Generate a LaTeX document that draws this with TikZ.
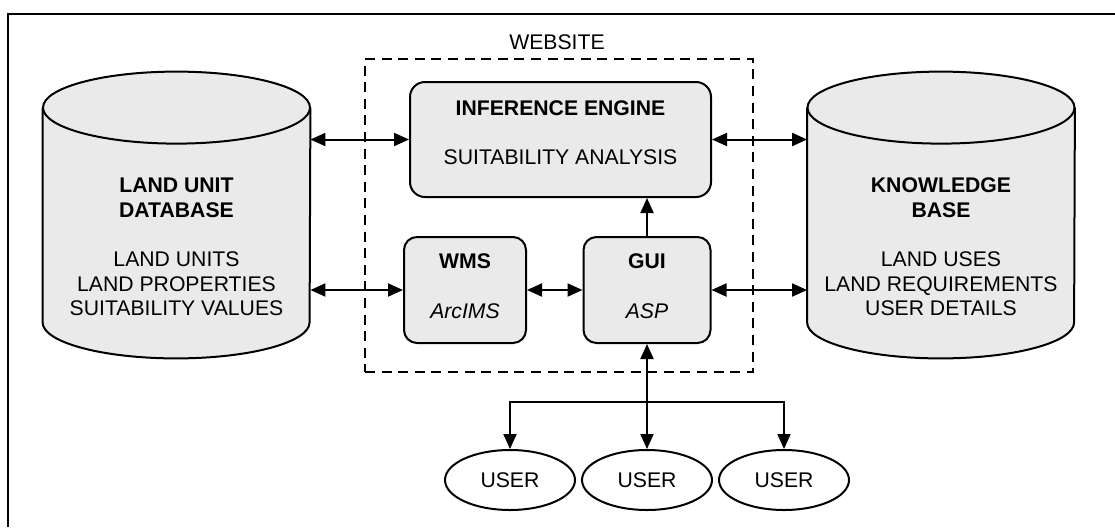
\documentclass[tikz,border=0pt]{standalone}
\usepackage{fontspec}
\setmainfont{Liberation Sans}
\usepackage{tikz}
\usetikzlibrary{arrows.meta}
\usetikzlibrary{backgrounds}
\usetikzlibrary{shapes.geometric}
\definecolor{boxgray}{RGB}{234,234,234}

\begin{document}
\begin{tikzpicture}[x=0.5pt,y=-0.5pt,
	every node/.style={font=\fontsize{10.6}{12.25}\selectfont, align=center},
	>={Triangle[length=7.5pt,width=6.5pt]}]
	\useasboundingbox (0,0) rectangle (1115,527);
	% frame
	\draw[line width=1.3pt] (8,527) -- (8,14) -- (1115,14);

	% website
	\node[draw, dash pattern=on 5pt off 3.3pt, line width=1.1pt,
	      minimum width=194pt, minimum height=156.5pt] (web) at (559,215.5) {};
	\node (weblabel) at (557,42) {WEBSITE};

	% databases
	\begin{scope}[every node/.append style={minimum width=133.5pt, minimum height=107pt, inner sep=0pt}]
		\node (lud) at (176.5,215) {};
		\node (kb) at (941,215) {};
	\end{scope}
	\node (ludtext) at ([yshift=-16pt]lud.center) {\textbf{LAND UNIT}\\\textbf{DATABASE}\\[12.5pt]LAND UNITS\\LAND PROPERTIES\\SUITABILITY VALUES};
	\node (kbtext) at ([yshift=-16pt]kb.center) {\textbf{KNOWLEDGE}\\\textbf{BASE}\\[12.5pt]LAND USES\\LAND REQUIREMENTS\\USER DETAILS};
	\begin{scope}[on background layer]
		\foreach \db in {lud,kb} {
			\draw[line width=1pt, fill=boxgray] (\db.north west) -- (\db.south west)
				arc[start angle=180, end angle=360, x radius=66.75pt, y radius=18pt] -- (\db.north east);
			\draw[line width=1pt, fill=boxgray] (\db.north) ellipse [x radius=66.75pt, y radius=18pt];
		}
	\end{scope}

	% modules
	\begin{scope}[every node/.append style={draw, line width=1pt, fill=boxgray,
	              rounded corners=6.5pt, minimum height=53pt, text depth=4pt}]
		\node[minimum width=150.5pt, minimum height=57.5pt, rounded corners=7.5pt, text depth=7pt] (ie) at (560.5,139.5) {\textbf{INFERENCE ENGINE}\\[12.25pt]SUITABILITY ANALYSIS};
		\node[minimum width=61pt] (wms) at (465,290) {\textbf{WMS}\\[12.5pt]\textit{ArcIMS}};
		\node[minimum width=63.5pt] (gui) at (647,290) {\textbf{GUI}\\[12.5pt]\textit{ASP}};
	\end{scope}

	% users
	\begin{scope}[every node/.append style={draw, ellipse, line width=1pt,
	              minimum width=65pt, minimum height=30pt, inner sep=0pt}]
		\node (u1) at (510,480) {USER};
		\node (u2) at (647,480) {USER};
		\node (u3) at (784,480) {USER};
	\end{scope}
	\coordinate (fork) at (647,402);

	\begin{scope}[line width=1pt]
		\draw[<->] (lud.east |- ie.west) -- (ie.west);
		\draw[<->] (lud.east |- wms.west) -- (wms.west);
		\draw[<->] (wms.east) -- (gui.west);
		\draw[<->] (ie.east) -- (ie.east -| kb.west);
		\draw[<->] (gui.east) -- (gui.east -| kb.west);
		\draw[->] (gui.north) -- (gui.north |- ie.south);
		\draw[<->] (gui.south) -- (u2.north);
		\draw[->] (fork) -| (u1.north);
		\draw[->] (fork) -| (u3.north);
	\end{scope}
\end{tikzpicture}
\end{document}
